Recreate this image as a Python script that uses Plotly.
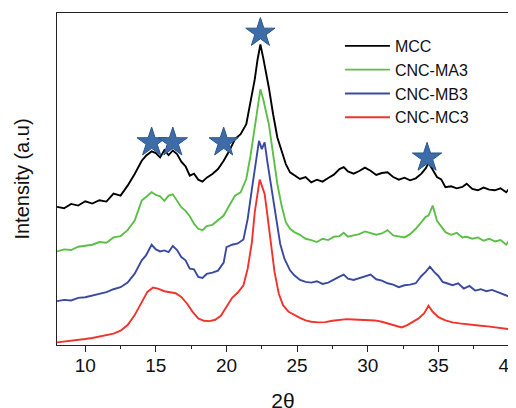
import plotly.graph_objects as go

# ---- data (arbitrary intensity units, curves already offset) ----
mcc_x = [8, 8.5, 9, 9.5, 10, 10.5, 11, 11.5, 12, 12.5, 13, 13.5, 14, 14.3, 14.7, 15.0, 15.3, 15.6, 15.9,
         16.2, 16.5, 16.8, 17.1, 17.4, 17.7, 18.0, 18.3, 18.6, 19.0, 19.4, 19.8, 20.2, 20.6, 21.0, 21.4,
         21.7, 22.0, 22.2, 22.4, 22.6, 22.8, 23.0, 23.3, 23.6, 23.9, 24.2, 24.5, 24.8, 25.2, 25.6, 26.0,
         26.4, 26.8, 27.2, 27.6, 28.0, 28.3, 28.6, 29.0, 29.4, 29.8, 30.2, 30.6, 31.0, 31.4, 31.8, 32.2,
         32.6, 33.0, 33.4, 33.8, 34.1, 34.3, 34.6, 34.9, 35.2, 35.5, 35.9, 36.3, 36.7, 37.0, 37.4, 37.8,
         38.2, 38.6, 39.0, 39.4, 39.8, 40]
mcc_y = [41.6, 41.2, 42.5, 42.0, 43.3, 42.6, 43.6, 43.2, 45.6, 45.0, 48.0, 51.5, 55.5, 57.0, 58.3, 57.8,
         56.5, 58.7, 57.2, 58.6, 57.5, 55.2, 53.8, 51.0, 51.6, 49.8, 49.2, 50.4, 51.5, 53.0, 55.5, 58.5,
         62.0, 63.5, 66.5, 73.0, 80.0, 86.0, 90.5, 86.5, 82.0, 77.5, 69.5, 62.5, 58.5, 54.5, 52.0, 51.2,
         50.0, 50.6, 49.0, 49.8, 49.2, 50.3, 51.3, 53.0, 53.6, 52.3, 51.6, 52.4, 53.4, 52.5, 51.2, 51.8,
         52.0, 50.6, 49.8, 50.4, 49.6, 50.2, 51.6, 53.2, 54.8, 52.8, 50.6, 49.9, 47.5, 47.8, 47.2, 47.6,
         48.6, 47.0, 46.6, 47.4, 46.8, 46.6, 47.2, 46.0, 47.0]

ma3_x = mcc_x
ma3_y = [28.2, 28.8, 28.6, 29.6, 29.9, 30.2, 31.0, 30.8, 32.4, 32.8, 34.6, 37.5, 43.5, 44.6, 46.0, 45.2,
         44.8, 43.4, 45.0, 45.4, 43.6, 41.5, 40.4, 38.8, 36.5, 35.0, 34.6, 35.8, 36.2, 37.5, 39.0, 42.0,
         45.0, 46.0, 50.0, 57.0, 66.0, 72.5, 77.0, 74.0, 70.5, 66.5, 57.5, 48.5, 42.0, 37.0, 35.0, 34.0,
         33.2, 32.0, 31.6, 31.0, 32.0, 31.6, 32.6, 32.8, 33.8, 32.6, 33.0, 33.4, 34.2, 33.6, 33.2, 33.6,
         34.6, 33.0, 32.6, 32.4, 33.4, 35.0, 37.0, 38.6, 39.0, 42.0, 37.4, 35.8, 34.0, 33.2, 33.8, 32.4,
         32.6, 32.0, 32.4, 31.4, 32.0, 31.2, 31.6, 30.2, 31.4]

mb3_x = [8, 8.5, 9, 9.5, 10, 10.5, 11, 11.5, 12, 12.5, 13, 13.5, 14, 14.3, 14.7, 15.0, 15.3, 15.6, 15.9,
         16.2, 16.5, 16.8, 17.1, 17.4, 17.7, 18.0, 18.3, 18.6, 19.0, 19.4, 19.8, 20.0, 20.4, 20.8, 21.2,
         21.5, 21.8, 22.1, 22.3, 22.5, 22.7, 22.9, 23.2, 23.5, 23.8, 24.1, 24.5, 24.8, 25.2, 25.6, 26.0,
         26.4, 26.8, 27.2, 27.6, 28.0, 28.3, 28.6, 29.0, 29.4, 29.8, 30.2, 30.6, 31.0, 31.4, 31.8, 32.2,
         32.6, 33.0, 33.4, 33.8, 34.1, 34.4, 34.7, 35.0, 35.3, 35.6, 36.0, 36.4, 36.8, 37.2, 37.6, 38.0,
         38.4, 38.8, 39.2, 39.6, 40]
mb3_y = [13.2, 13.6, 13.4, 14.2, 14.4, 14.9, 15.4, 15.9, 16.8, 17.4, 18.8, 21.5, 25.5, 27.0, 30.2, 28.8,
         28.2, 28.5, 28.0, 29.8, 28.6, 26.5, 25.5, 23.0, 22.8, 20.5, 20.2, 21.4, 21.8, 22.4, 24.8, 29.5,
         30.2, 30.6, 31.8, 38.0, 47.0, 56.0, 61.5, 59.0, 61.0, 55.0, 46.5, 38.0, 30.5, 26.0, 22.5, 21.0,
         19.6, 19.0, 18.8, 19.2, 18.4, 18.8, 19.8, 20.6, 21.2, 20.0, 19.6, 20.2, 20.8, 21.2, 19.8, 19.4,
         18.6, 18.2, 17.4, 18.0, 18.2, 18.6, 20.8, 22.0, 23.6, 22.0, 20.8, 19.0, 18.6, 18.0, 18.6, 17.0,
         17.8, 16.4, 16.8, 16.2, 16.6, 16.0, 15.2, 14.6]

mc3_x = [8, 8.5, 9, 9.5, 10, 10.5, 11, 11.5, 12, 12.5, 13, 13.5, 14, 14.4, 14.8, 15.2, 15.6, 16.0, 16.4,
         16.8, 17.2, 17.6, 18.0, 18.4, 18.8, 19.2, 19.6, 20.0, 20.4, 20.8, 21.2, 21.5, 21.8, 22.0, 22.2,
         22.35, 22.5, 22.7, 22.9, 23.1, 23.4, 23.7, 24.0, 24.4, 24.8, 25.2, 25.6, 26.0, 26.5, 27.0, 27.5,
         28.0, 28.5, 29.0, 29.5, 30.0, 30.5, 31.0, 31.5, 32.0, 32.4, 32.8, 33.2, 33.6, 34.0, 34.3, 34.6,
         35.0, 35.5, 36.0, 36.5, 37.0, 37.5, 38.0, 38.5, 39.0, 39.5, 40]
mc3_y = [0.8, 1.0, 1.2, 1.5, 1.8, 2.1, 2.5, 2.9, 3.4, 4.3, 6.0, 9.0, 13.0, 16.0, 17.3, 16.9, 16.2, 16.0,
         15.6, 14.5, 12.5, 10.0, 8.0, 7.3, 7.2, 7.6, 8.8, 11.5, 14.2, 15.8, 18.0, 23.0, 31.0, 40.0, 46.5,
         49.8, 48.0, 45.5, 39.0, 32.0, 22.0, 15.5, 12.0, 10.0, 9.0, 8.2, 7.4, 7.0, 6.8, 6.9, 7.3, 7.6, 7.8,
         7.7, 7.6, 7.7, 7.4, 7.0, 6.4, 5.8, 5.3, 6.0, 7.0, 8.0, 9.6, 11.8, 10.0, 8.4, 7.4, 6.8, 6.5, 6.2,
         6.0, 5.8, 5.6, 5.3, 5.1, 4.8]

star_x = [14.7, 16.2, 19.8, 22.4, 34.2]
star_y = [61.0, 61.0, 61.0, 94.0, 56.4]

series_names = ["MCC", "CNC-MA3", "CNC-MB3", "CNC-MC3"]
series_x = [mcc_x, ma3_x, mb3_x, mc3_x]
series_y = [mcc_y, ma3_y, mb3_y, mc3_y]
series_colors = ["#000000", "#5cbf48", "#3a4aa0", "#f0332b"]

x_ticks = [10, 15, 20, 25, 30, 35, 40]

FONT = "Liberation Sans, Arial, sans-serif"

fig = go.Figure()
for name, xs, ys, col in zip(series_names, series_x, series_y, series_colors):
    fig.add_trace(go.Scatter(x=xs, y=ys, mode="lines", name=name,
                             line=dict(color=col, width=1.9)))

fig.add_trace(go.Scatter(x=star_x, y=star_y, mode="markers", showlegend=False,
                         marker=dict(symbol="star", size=22, color="#3d6ca6",
                                     line=dict(color="#2a578f", width=1))))

# the page body adds an 8px offset; plot area placed so it lands where the reference has it,
# the figure slightly overflows the window at right/bottom like the cropped original
fig.update_layout(
    width=516, height=412,
    margin=dict(l=49, r=15, t=5, b=75),
    paper_bgcolor="white", plot_bgcolor="white",
    font=dict(family=FONT, size=19, color="#111111"),
    legend=dict(x=0.626, y=0.952, xanchor="left", yanchor="top",
                bgcolor="rgba(0,0,0,0)", font=dict(size=16), itemwidth=45),
    xaxis=dict(range=[8, 40.0001], tickvals=x_ticks, ticks="outside", ticklen=6,
               tickwidth=1, tickcolor="#222", showline=True, linecolor="#222",
               linewidth=1, mirror=True, showgrid=False, zeroline=False,
               automargin=False, ticklabelstandoff=-3, ticklabeloverflow="allow",
               tickfont=dict(size=19),
               minor=dict(dtick=2.5, tick0=0, ticks="outside", ticklen=3, tickcolor="#222"),
               title=dict(text="2θ", font=dict(size=21), standoff=18)),
    yaxis=dict(range=[0, 100], showticklabels=False, ticks="", showline=True,
               linecolor="#222", linewidth=1, mirror=True, showgrid=False,
               zeroline=False, automargin=False,
               title=dict(text="Intensity (a.u)", font=dict(size=20), standoff=21)),
)

fig.write_html("out.html")
